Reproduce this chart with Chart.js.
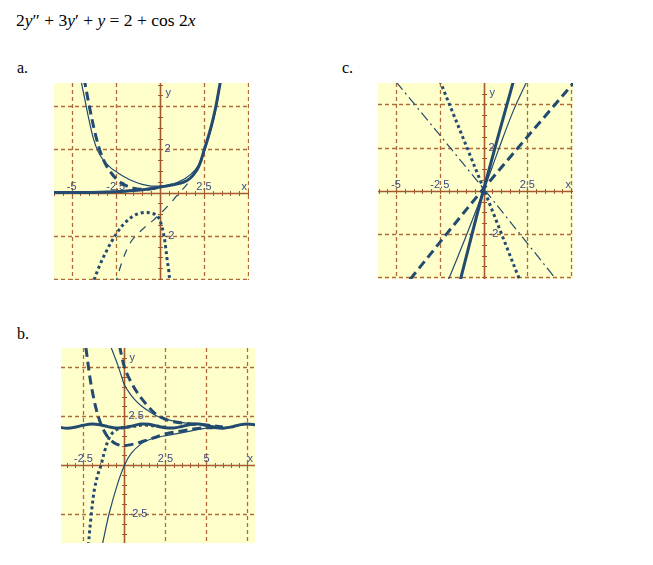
<!DOCTYPE html>
<html>
<head>
<meta charset="utf-8">
<script src="https://cdn.jsdelivr.net/npm/chart.js@4.4.0/dist/chart.umd.min.js"></script>
<style>
  body { margin: 0; background: #fff; width: 653px; height: 565px; position: relative; overflow: hidden; }
  .eq { position: absolute; left: 16px; top: 12px; font: 17.5px "Liberation Serif", "Times New Roman", serif; line-height: 1; white-space: nowrap; }
  .lbl { position: absolute; font: 16px "Liberation Serif", "Times New Roman", serif; line-height: 1; }
  canvas { position: absolute; }
</style>
</head>
<body>
<div class="eq">2<i>y</i>″ + 3<i>y</i>′ + <i>y</i> = 2 + cos 2<i>x</i></div>
<div class="lbl" style="left:17px; top:60px;">a.</div>
<div class="lbl" style="left:342px; top:60px;">c.</div>
<div class="lbl" style="left:17px; top:326px;">b.</div>
<canvas id="chartA" width="195" height="197" style="left:54px; top:83px;"></canvas>
<canvas id="chartC" width="195" height="196" style="left:378px; top:83px;"></canvas>
<canvas id="chartB" width="194" height="195" style="left:61px; top:348px;"></canvas>
<script>
// ---- panel a ----
const aXTicks = [-5, -2.5, 2.5];
const aYTicks = [2, -2];
const aThickX = [-6, -4, -3, -2.5, -2, -1.5, -1, -0.5, 0, 0.5, 1, 1.35, 1.7, 2.1, 2.3, 2.5, 2.75, 3.0, 3.2, 3.4, 3.5];
const aThickY = [0, 0, 0.02, 0.04, 0.06, 0.09, 0.13, 0.18, 0.25, 0.32, 0.4, 0.48, 0.65, 1.05, 1.4, 1.95, 2.6, 3.35, 4.1, 5.0, 5.5];
const aThinX = [-4.5, -4.25, -4.0, -3.75, -3.5, -3.2, -2.8, -2.5, -2, -1.5, -1, -0.5, 0, 0.5, 1, 1.5, 2, 2.3, 2.5, 2.75, 3, 3.25, 3.45];
const aThinY = [5.3, 4.3, 3.3, 2.45, 1.9, 1.5, 1.15, 0.98, 0.72, 0.52, 0.38, 0.3, 0.3, 0.35, 0.47, 0.68, 1.05, 1.45, 1.85, 2.5, 3.25, 4.2, 5.2];
const aDashX = [-4.3, -4.0, -3.7, -3.4, -3.1, -2.8, -2.4, -2, -1.5, -1, -0.5, 0];
const aDashY = [5.3, 4.0, 2.85, 1.95, 1.35, 0.95, 0.58, 0.35, 0.2, 0.15, 0.17, 0.22];
const aDotX = [-3.85, -3.4, -2.97, -2.65, -2.35, -2.0, -1.5, -1.1, -0.77, -0.45, -0.15, 0.05, 0.23, 0.33, 0.41, 0.5, 0.58];
const aDotY = [-4.3, -3.35, -2.62, -2.15, -1.77, -1.42, -1.08, -0.95, -0.92, -0.96, -1.08, -1.4, -2.0, -2.55, -3.1, -3.6, -4.3];
const aThinDashX = [-2.55, -2.1, -1.66, -1.3, -0.9, -0.4, 0, 0.5, 0.96, 1.4, 1.7, 2.15, 2.5];
const aThinDashY = [-4.3, -3.1, -2.3, -1.95, -1.64, -1.3, -1.0, -0.58, -0.15, 0.25, 0.55, 1.2, 1.9];

// ---- panel c ----
const cXTicks = [-5, -2.5, 2.5];
const cYTicks = [2, -2];
const cThickX = [-1.35, 0, 1.75];
const cThickY = [-4.2, 0.05, 5.2];
const cThinX = [-2.05, -1, 0, 0.9, 1.7, 2.55];
const cThinY = [-4.2, -2.1, 0, 2.0, 3.7, 5.2];
const cDashX = [-4.2, 0, 5.2];
const cDashY = [-4.1, 0.1, 5.05];
const cDotX = [-2.5, 0, 2.1];
const cDotY = [5.1, 0.1, -4.2];
const cDashDotX = [-5.0, 0, 4.15];
const cDashDotY = [5.05, 0.1, -4.1];

// ---- panel b ----
const bXTicks = [-2.5, 2.5, 5];
const bYTicks = [2.5, -2.5];
const bWaveX = [-4, -3.5, -3, -2.5, -2, -1.5, -1, -0.5, 0, 0.5, 1, 1.5, 2, 2.5, 3, 3.5, 4, 4.5, 5, 5.5, 6, 6.5, 7, 7.5, 8];
const bWaveY = [1.94, 1.89, 1.94, 2.04, 2.11, 2.07, 1.97, 1.90, 1.92, 2.01, 2.10, 2.09, 2.00, 1.91, 1.90, 1.98, 2.08, 2.10, 2.03, 1.93, 1.89, 1.95, 2.06, 2.11, 2.06];
const bThinTopX = [-0.85, -0.6, -0.4, -0.2, 0, 0.3, 0.6, 1, 1.5, 2, 2.5, 3, 4, 5, 6];
const bThinTopY = [6.1, 5.55, 5.1, 4.6, 4.1, 3.7, 3.38, 3.05, 2.75, 2.5, 2.35, 2.25, 2.12, 2.05, 1.93];
const bDashTopX = [-0.3, -0.15, 0, 0.25, 0.5, 0.75, 1, 1.5, 2, 2.5, 3, 4, 5, 6];
const bDashTopY = [6.1, 5.5, 5.0, 4.5, 4.1, 3.75, 3.45, 2.95, 2.55, 2.35, 2.22, 2.12, 2.05, 1.95];
const bDashLeftX = [-2.35, -2.1, -1.9, -1.7, -1.45, -1.2, -1, -0.7, -0.4, 0, 0.4, 0.8, 1.2, 1.8, 2.5, 3.5, 4.5, 5.5];
const bDashLeftY = [6.0, 4.45, 3.52, 2.79, 2.13, 1.68, 1.42, 1.18, 1.05, 1.0, 1.05, 1.13, 1.24, 1.4, 1.6, 1.75, 1.88, 1.93];
const bDotX = [-2.2, -2.04, -1.84, -1.63, -1.43, -1.19, -0.9, -0.6, -0.2, 0.5, 1.2, 2.5];
const bDotY = [-4.1, -2.64, -1.27, -0.5, 0, 0.77, 1.45, 1.75, 1.9, 1.98, 2.05, 1.93];
const bThinLowX = [-1.4, -1.33, -0.93, -0.41, 0, 0.41, 1.03, 1.5, 2.45, 3.47, 4.9, 6, 7];
const bThinLowY = [-4.3, -4.0, -2.46, -0.93, 0, 0.6, 1.1, 1.3, 1.5, 1.65, 1.88, 1.92, 2.02];

const INK = '#234a6f';
const GRID = '#b06a3a';
const AXIS = '#a3582e';
const LABEL = '#3b4a86';

// draws yellow field, dashed grid, solid axes with minor ticks and labels
const panelAxes = {
  id: 'panelAxes',
  beforeDatasetsDraw(chart, args, opts) {
    const ctx = chart.ctx;
    const a = chart.chartArea;
    const x = chart.scales.x, y = chart.scales.y;
    ctx.save();
    ctx.fillStyle = '#ffffcc';
    ctx.fillRect(a.left, a.top, a.width, a.height);

    ctx.strokeStyle = GRID;
    ctx.lineWidth = 1.3;
    ctx.setLineDash([4, 3]);
    for (let v = Math.ceil(x.min / opts.xStep) * opts.xStep; v <= x.max; v += opts.xStep) {
      if (Math.abs(v) < 1e-9) continue;
      const px = Math.round(x.getPixelForValue(v)) + 0.5;
      ctx.beginPath(); ctx.moveTo(px, a.top); ctx.lineTo(px, a.bottom); ctx.stroke();
    }
    for (let v = Math.ceil(y.min / opts.yStep) * opts.yStep; v <= y.max; v += opts.yStep) {
      if (Math.abs(v) < 1e-9) continue;
      const py = Math.round(y.getPixelForValue(v)) + 0.5;
      ctx.beginPath(); ctx.moveTo(a.left, py); ctx.lineTo(a.right, py); ctx.stroke();
    }

    const x0 = Math.round(x.getPixelForValue(0)) + 0.5;
    const y0 = Math.round(y.getPixelForValue(0)) + 0.5;
    ctx.setLineDash([]);
    ctx.strokeStyle = AXIS;
    ctx.lineWidth = 1.6;
    ctx.beginPath();
    ctx.moveTo(a.left, y0); ctx.lineTo(a.right, y0);
    ctx.moveTo(x0, a.top); ctx.lineTo(x0, a.bottom);
    ctx.stroke();
    // minor ticks
    ctx.lineWidth = 1;
    ctx.beginPath();
    for (let v = Math.ceil(x.min / 0.5) * 0.5; v <= x.max; v += 0.5) {
      const px = Math.round(x.getPixelForValue(v)) + 0.5;
      ctx.moveTo(px, y0 - 2.5); ctx.lineTo(px, y0 + 2.5);
    }
    for (let v = Math.ceil(y.min / 0.5) * 0.5; v <= y.max; v += 0.5) {
      const py = Math.round(y.getPixelForValue(v)) + 0.5;
      ctx.moveTo(x0 - 2.5, py); ctx.lineTo(x0 + 2.5, py);
    }
    ctx.stroke();

    ctx.fillStyle = LABEL;
    ctx.font = '11px "Liberation Sans", Arial, sans-serif';
    ctx.textAlign = 'center';
    ctx.textBaseline = 'bottom';
    opts.xTicks.forEach(v => ctx.fillText(String(v), x.getPixelForValue(v), y0 - 1));
    ctx.textAlign = 'right';
    ctx.fillText('x', a.right - 2, y0 - 1);
    ctx.textAlign = 'left';
    ctx.textBaseline = 'middle';
    opts.yTicks.forEach(v => ctx.fillText(String(v), x0 + 4, y.getPixelForValue(v)));
    ctx.fillText('y', x0 + 5, a.top + 10);
    ctx.restore();
  }
};

const STYLES = {
  thick:    { borderWidth: 3,   borderDash: [] },
  thin:     { borderWidth: 1.2, borderDash: [] },
  dash:     { borderWidth: 3,   borderDash: [9, 5] },
  dot:      { borderWidth: 3,   borderDash: [3, 3] },
  thinDash: { borderWidth: 1.2, borderDash: [8, 7] },
  dashDot:  { borderWidth: 1.2, borderDash: [10, 4, 2, 4] }
};

function curve(xs, ys, style) {
  return {
    data: xs.map((v, i) => ({ x: v, y: ys[i] })),
    showLine: true,
    borderColor: INK,
    borderWidth: STYLES[style].borderWidth,
    borderDash: STYLES[style].borderDash,
    pointRadius: 0,
    fill: false,
    tension: 0.35
  };
}

function makePanel(id, xr, yr, xStep, yStep, xTicks, yTicks, datasets) {
  return new Chart(document.getElementById(id).getContext('2d'), {
    type: 'scatter',
    data: { datasets: datasets },
    options: {
      responsive: false,
      animation: false,
      devicePixelRatio: 1,
      layout: { padding: 0 },
      events: [],
      plugins: {
        legend: { display: false },
        tooltip: { enabled: false },
        panelAxes: { xStep, yStep, xTicks, yTicks }
      },
      scales: {
        x: { type: 'linear', min: xr[0], max: xr[1], display: false },
        y: { type: 'linear', min: yr[0], max: yr[1], display: false }
      }
    },
    plugins: [panelAxes]
  });
}

makePanel('chartA', [-6.0, 5.05], [-4.05, 5.07], 2.5, 2, aXTicks, aYTicks, [
  curve(aThinDashX, aThinDashY, 'thinDash'),
  curve(aDotX, aDotY, 'dot'),
  curve(aDashX, aDashY, 'dash'),
  curve(aThinX, aThinY, 'thin'),
  curve(aThickX, aThickY, 'thick')
]);

makePanel('chartC', [-6.03, 5.11], [-4.08, 4.99], 2.5, 2, cXTicks, cYTicks, [
  curve(cDashDotX, cDashDotY, 'dashDot'),
  curve(cDotX, cDotY, 'dot'),
  curve(cDashX, cDashY, 'dash'),
  curve(cThinX, cThinY, 'thin'),
  curve(cThickX, cThickY, 'thick')
]);

makePanel('chartB', [-3.87, 7.96], [-3.98, 5.99], 2.5, 2.5, bXTicks, bYTicks, [
  curve(bThinLowX, bThinLowY, 'thin'),
  curve(bDotX, bDotY, 'dot'),
  curve(bDashLeftX, bDashLeftY, 'dash'),
  curve(bDashTopX, bDashTopY, 'dash'),
  curve(bThinTopX, bThinTopY, 'thin'),
  curve(bWaveX, bWaveY, 'thick')
]);
</script>
</body>
</html>
